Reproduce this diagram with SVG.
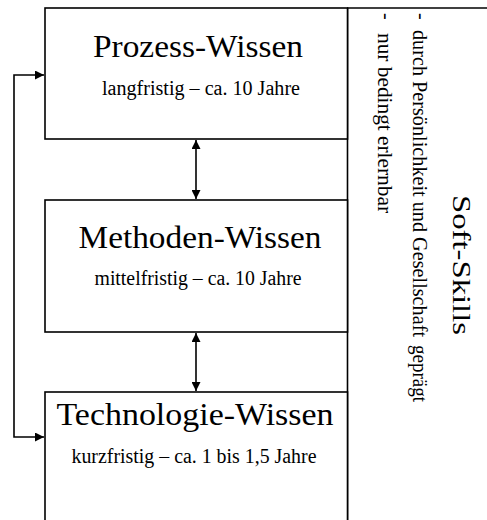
<svg xmlns="http://www.w3.org/2000/svg" width="487" height="520" viewBox="0 0 487 520">
  <style>
    .box { fill: #ffffff; stroke: #000000; stroke-width: 1.6; }
    .edge { fill: none; stroke: #000000; stroke-width: 1.6; }
    text { font-family: 'Liberation Serif', 'DejaVu Serif', 'Times New Roman', serif; fill: #000000; }
    .title { font-size: 32px; text-anchor: middle; }
    .sub { font-size: 20px; text-anchor: middle; }
    .side { font-size: 20px; }
    .head { font-size: 26px; }
  </style>
  <defs>
    <marker id="arrow" viewBox="0 0 10 10" refX="10" refY="5" markerWidth="10" markerHeight="9" markerUnits="userSpaceOnUse" orient="auto-start-reverse">
      <path d="M0,0 L10,5 L0,10 Z" fill="#000000"/>
    </marker>
  </defs>
  <rect width="487" height="520" fill="#ffffff"/>

  <!-- Soft-Skills panel frame and vertical labels -->
  <g id="soft-skills">
    <line class="edge" x1="347" y1="8" x2="487" y2="8"/>
    <line class="edge" x1="347.5" y1="8" x2="347.5" y2="520"/>
    <text class="side" transform="translate(380,13) rotate(90)">-</text>
    <text class="side" transform="translate(378,33) rotate(90)" textLength="180" lengthAdjust="spacingAndGlyphs">nur bedingt erlernbar</text>
    <text class="side" transform="translate(415,13) rotate(90)">-</text>
    <text class="side" transform="translate(413,30) rotate(90)" textLength="307" lengthAdjust="spacingAndGlyphs">durch Persönlichkeit und Gesellschaft</text>
    <text class="side" transform="translate(413,345) rotate(90)" textLength="57" lengthAdjust="spacingAndGlyphs">geprägt</text>
    <text class="head" transform="translate(453,195) rotate(90)" textLength="140" lengthAdjust="spacingAndGlyphs">Soft-Skills</text>
  </g>

  <g id="prozess">
    <rect class="box" x="45" y="8" width="302.5" height="131"/>
    <text class="title" x="198" y="57" textLength="210" lengthAdjust="spacingAndGlyphs">Prozess-Wissen</text>
    <text class="sub" x="201" y="95" textLength="198" lengthAdjust="spacingAndGlyphs">langfristig – ca. 10 Jahre</text>
  </g>

  <g id="methoden">
    <rect class="box" x="45" y="200" width="302.5" height="132"/>
    <text class="title" x="200" y="248" textLength="243" lengthAdjust="spacingAndGlyphs">Methoden-Wissen</text>
    <text class="sub" x="198" y="285" textLength="207" lengthAdjust="spacingAndGlyphs">mittelfristig – ca. 10 Jahre</text>
  </g>

  <g id="technologie">
    <rect class="box" x="45" y="392" width="302.5" height="140"/>
    <text class="title" x="195" y="425" textLength="277" lengthAdjust="spacingAndGlyphs">Technologie-Wissen</text>
    <text class="sub" x="194" y="463" textLength="245" lengthAdjust="spacingAndGlyphs">kurzfristig – ca. 1 bis 1,5 Jahre</text>
  </g>

  <g id="connectors">
    <line class="edge" x1="196" y1="140" x2="196" y2="199" marker-start="url(#arrow)" marker-end="url(#arrow)"/>
    <line class="edge" x1="196" y1="333" x2="196" y2="391" marker-start="url(#arrow)" marker-end="url(#arrow)"/>
    <path class="edge" d="M44,75 H14 V437 H44" marker-start="url(#arrow)" marker-end="url(#arrow)"/>
  </g>
</svg>
